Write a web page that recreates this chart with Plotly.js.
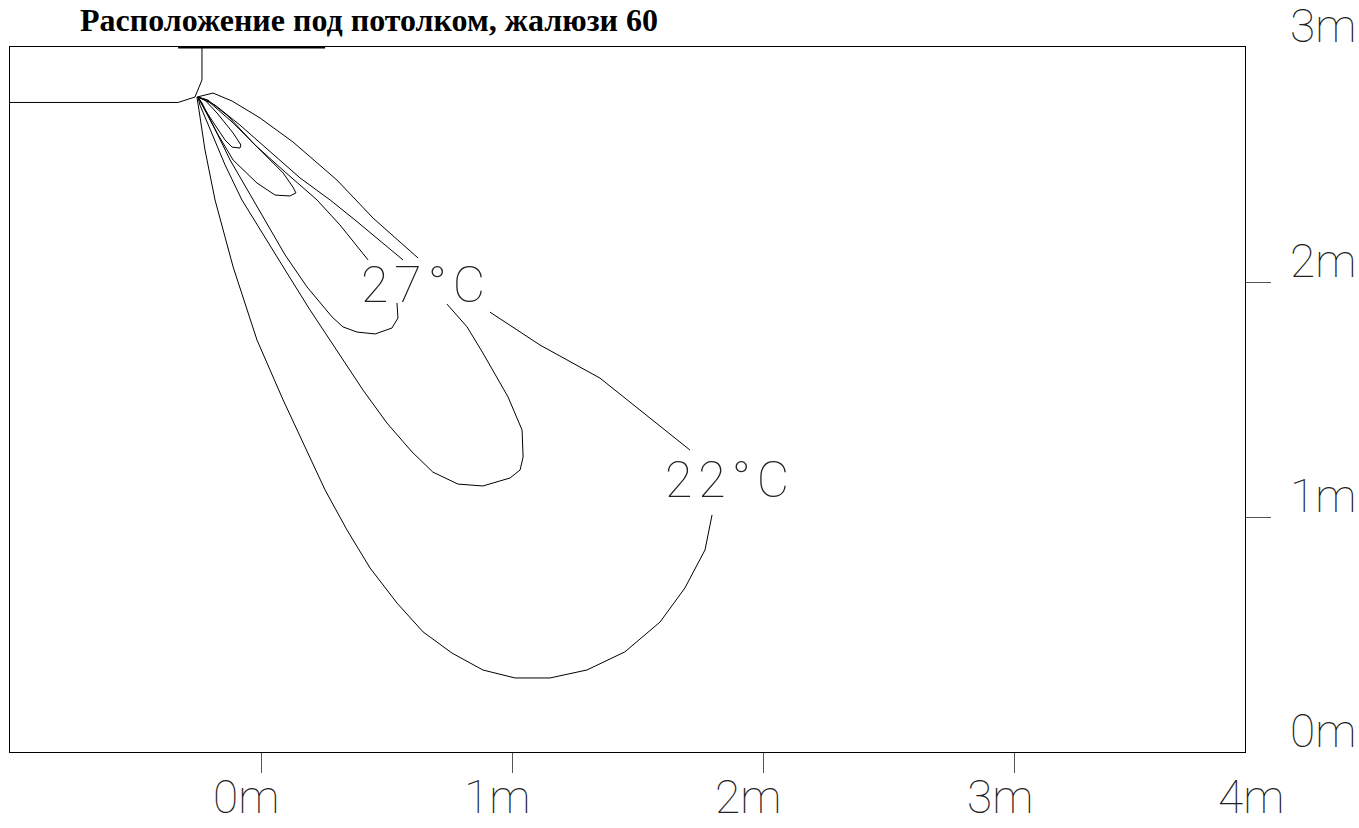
<!DOCTYPE html>
<html>
<head>
<meta charset="utf-8">
<script src="https://cdn.plot.ly/plotly-3.0.1.min.js"></script>
<style>html,body{margin:0;padding:0;background:#fff;}#chart{width:1359px;height:828px;}</style>
</head>
<body>
<div id="chart"></div>
<script>
// Title
const titleText = "Расположение под потолком, жалюзи 60";

// Axis ticks (metres) and labels
const xTickVals = [0, 1, 2, 3];
const xLabelVals = [0, 1, 2, 3, 4];
const xLabelText = ["0m", "1m", "2m", "3m", "4m"];
const yTickVals = [1, 2];
const yLabelVals = [0, 1, 2, 3];
const yLabelText = ["0m", "1m", "2m", "3m"];

// Ceiling / diffuser outline (metres)
const boxX = [-1.0, -0.330, -0.263, -0.235, -0.235];
const boxY = [2.764, 2.764, 2.787, 2.860, 3.0];
const slotX = [-0.330, 0.255];
const slotY = [3.0, 3.0];

// Isotherm 22°C (outer), null = gap for label
const c22x = [-0.255,-0.191,-0.115,-0.004,0.127,0.302,0.446,0.625,null,0.911,1.110,1.349,1.556,1.707,null,1.795,1.767,1.687,1.588,1.448,1.297,1.150,1.011,0.883,0.760,0.645,0.541,0.434,0.342,0.255,0.175,0.088,-0.016,-0.111,-0.183,-0.223,-0.247,-0.255];
const c22y = [2.787,2.804,2.770,2.698,2.596,2.434,2.272,2.102,null,1.872,1.732,1.591,1.413,1.285,null,1.009,0.860,0.698,0.553,0.426,0.349,0.315,0.315,0.349,0.421,0.511,0.634,0.783,0.945,1.115,1.298,1.498,1.753,2.064,2.349,2.562,2.732,2.787];

// Intermediate isotherm
const cMidx = [-0.251,-0.183,-0.084,0.036,0.155,0.275,0.374,0.565,null,0.740,0.820,0.883,0.983,1.039,1.043,1.031,0.991,0.883,0.784,0.684,0.601,0.501,0.406,0.314,0.195,0.096,0.004,-0.076,-0.143,-0.203,-0.243,-0.251];
const cMidy = [2.787,2.753,2.668,2.553,2.443,2.349,2.264,2.094,null,1.906,1.809,1.698,1.511,1.370,1.255,1.200,1.166,1.132,1.140,1.191,1.277,1.400,1.540,1.689,1.881,2.051,2.213,2.349,2.498,2.647,2.753,2.787];

// Isotherm 27°C
const c27x = [-0.251,-0.211,-0.131,-0.024,0.096,0.223,0.314,0.426,null,0.541,0.545,0.521,0.454,0.382,0.326,0.283,0.183,0.096,0.016,-0.032,-0.123,-0.191,-0.235,-0.251];
const c27y = [2.787,2.774,2.706,2.583,2.468,2.349,2.243,2.094,null,1.911,1.847,1.804,1.779,1.787,1.809,1.851,1.979,2.115,2.264,2.349,2.519,2.668,2.762,2.787];

// Inner isotherms
const cIn1x = [-0.251,-0.219,-0.175,-0.111,-0.016,0.056,0.115,0.139,0.127,0.088,-0.004,-0.111,-0.215,-0.251];
const cIn1y = [2.787,2.723,2.634,2.519,2.421,2.370,2.366,2.379,2.404,2.464,2.562,2.677,2.774,2.787];
const cIn2x = [-0.251,-0.227,-0.191,-0.143,-0.115,-0.084,-0.080,-0.111,-0.175,-0.223,-0.251];
const cIn2y = [2.787,2.740,2.681,2.604,2.574,2.570,2.583,2.634,2.719,2.774,2.787];

// Contour labels
const contourLabelText = ["27°C", "22°C"];
const contourLabelX = [0.657, 1.866];
const contourLabelY = [1.987, 1.157];

const X_RANGE = [-0.999, 3.916];
const Y_RANGE = [0, 3];
const toPaperX = v => (v - X_RANGE[0]) / (X_RANGE[1] - X_RANGE[0]);
const toPaperY = v => (v - Y_RANGE[0]) / (Y_RANGE[1] - Y_RANGE[0]);

const lineStyle = {color: "#000", width: 1};
function tr(x, y, extra) {
  return Object.assign({type: "scatter", mode: "lines", x: x, y: y, line: lineStyle,
    hoverinfo: "skip", connectgaps: false, cliponaxis: false}, extra || {});
}
const traces = [
  tr(boxX, boxY),
  tr(slotX, slotY, {line: {color: "#000", width: 3}}),
  tr(c22x, c22y),
  tr(cMidx, cMidy),
  tr(c27x, c27y),
  tr(cIn1x, cIn1y),
  tr(cIn2x, cIn2y)
];

const labelFont = {family: "Roboto, 'DejaVu Sans', sans-serif", size: 46, weight: 100, color: "#222"};
const contourFont = {family: "Roboto, 'DejaVu Sans', sans-serif", size: 50, weight: 100, color: "#222"};
const annotations = [];
xLabelVals.forEach((v, i) => annotations.push({
  x: toPaperX(v - 0.06), xref: "paper", y: (752 - 826) / 705, yref: "paper", text: xLabelText[i],
  showarrow: false, xanchor: "center", yanchor: "bottom", font: labelFont
}));
yLabelVals.forEach((v, i) => annotations.push({
  x: 1.0348, xref: "paper", y: toPaperY(v + 0.09), yref: "paper", text: yLabelText[i],
  showarrow: false, xanchor: "left", yanchor: "middle", font: labelFont
}));
contourLabelText.forEach((t, i) => annotations.push({
  x: contourLabelX[i], y: contourLabelY[i], xref: "x", yref: "y",
  text: '<span style="letter-spacing:6px">' + t + '</span>',
  showarrow: false, xanchor: "center", yanchor: "middle", font: contourFont
}));

const layout = {
  width: 1359, height: 828,
  margin: {l: 10, r: 114, t: 47, b: 76},
  paper_bgcolor: "#fff", plot_bgcolor: "#fff",
  showlegend: false,
  title: {
    text: "<b>" + titleText + "</b>",
    font: {family: "'Liberation Serif', 'Times New Roman', serif", size: 32, color: "#000"},
    xref: "container", x: 80 / 1359, xanchor: "left",
    yref: "container", y: 1 - 31 / 828, yanchor: "bottom"
  },
  xaxis: {
    range: X_RANGE, showgrid: false, zeroline: false,
    showline: true, mirror: true, linecolor: "#000", linewidth: 1,
    ticks: "outside", ticklen: 20, tickwidth: 1, tickcolor: "#555",
    tickvals: xTickVals, showticklabels: false, fixedrange: true
  },
  yaxis: {
    range: Y_RANGE, side: "right", showgrid: false, zeroline: false,
    showline: true, mirror: true, linecolor: "#000", linewidth: 1,
    ticks: "outside", ticklen: 25, tickwidth: 1, tickcolor: "#555",
    tickvals: yTickVals, showticklabels: false, fixedrange: true
  },
  annotations: annotations
};

Plotly.newPlot("chart", traces, layout, {displayModeBar: false, staticPlot: true});
</script>
</body>
</html>
